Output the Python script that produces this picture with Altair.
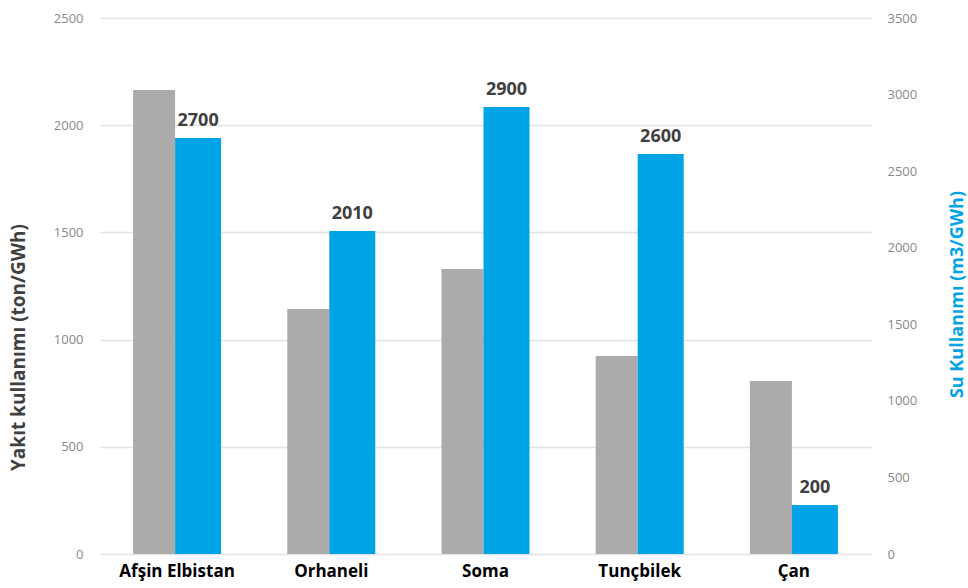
import altair as alt
import pandas as pd

categories = ["Afşin Elbistan", "Orhaneli", "Soma", "Tunçbilek", "Çan"]
fuel_use = [2164, 1143, 1329, 923, 807]          # ton/GWh (left axis)
water_use = [2716, 2109, 2919, 2612, 320]        # m3/GWh (right axis)
water_labels = ["2700", "2010", "2900", "2600", "200"]

df = pd.DataFrame({
    "cat": categories,
    "fuel": fuel_use,
    "water": water_use,
    "label": water_labels,
})

FONT = "Open Sans"
GRAY = "#adabaa"
BLUE = "#00a3e6"

x_enc = alt.X(
    "cat:N",
    sort=categories,
    scale=alt.Scale(paddingInner=0.4, paddingOuter=0.2),
    axis=alt.Axis(
        title=None, labelAngle=0, labelFont=FONT, labelFontSize=17,
        labelFontWeight="bold", labelColor="#000000", domain=False,
        ticks=False, labelPadding=9,
    ),
)

gray = alt.Chart(df).mark_bar(color=GRAY, width=42, xOffset=-23).encode(
    x=x_enc,
    y=alt.Y(
        "fuel:Q",
        scale=alt.Scale(domain=[0, 2500]),
        axis=alt.Axis(
            title="Yakıt kullanımı  (ton/GWh)", values=[0, 500, 1000, 1500, 2000, 2500],
            format="d",
            titleFont=FONT, titleFontSize=19, titleFontWeight="bold", titleColor="#404040",
            titleX=-82, titleY=329, titleAlign="center", titleBaseline="middle", titleAngle=270,
            labelFont=FONT, labelFontSize=13, labelColor="#8a8a8a", labelPadding=17,
            domain=False, ticks=False, grid=True, gridColor="#e3e3e3", gridWidth=1.5,
        ),
    ),
)

blue = alt.Chart(df).mark_bar(color=BLUE, width=46, xOffset=21).encode(
    x=alt.X("cat:N", sort=categories),
    y=alt.Y(
        "water:Q",
        scale=alt.Scale(domain=[0, 3500]),
        axis=alt.Axis(
            orient="right",
            title="Su Kullanımı (m3/GWh)", values=[0, 500, 1000, 1500, 2000, 2500, 3000, 3500],
            format="d",
            titleFont=FONT, titleFontSize=18, titleFontWeight="bold", titleColor=BLUE,
            titleX=86, titleY=276, titleAlign="center", titleBaseline="middle", titleAngle=270,
            labelFont=FONT, labelFontSize=13, labelColor="#8a8a8a", labelPadding=16,
            domain=False, ticks=False, grid=False,
        ),
    ),
)

labels = alt.Chart(df).mark_text(
    font=FONT, fontSize=18, fontWeight="bold", color="#404040",
    baseline="bottom", dy=-8, xOffset=21,
).encode(
    x=alt.X("cat:N", sort=categories),
    y=alt.Y("water:Q"),
    text="label:N",
)

right = alt.layer(blue, labels)

chart = alt.layer(gray, right).resolve_scale(y="independent").properties(
    width=771, height=536,
    background="white",
    autosize=alt.AutoSizeParams(type="none"),
    padding={"left": 100, "top": 18, "right": 97, "bottom": 34},
).configure_view(strokeWidth=0, stroke="transparent")

chart.save("out.html", embed_options={"renderer": "svg", "actions": False})
